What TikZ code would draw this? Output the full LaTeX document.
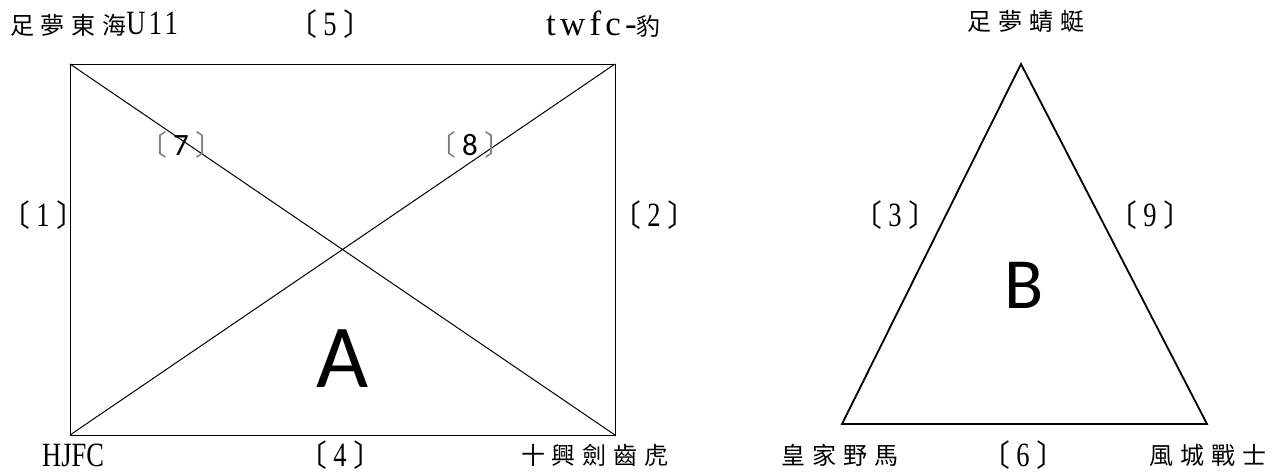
\documentclass[tikz,border=0pt]{standalone}
\usepackage{fontspec}
\setmainfont{Liberation Serif}
\newfontfamily\cjk[LetterSpace=28]{Noto Sans CJK TC}
\newfontfamily\cjkb{Noto Sans CJK TC}
\newfontfamily\latf[FakeStretch=0.78]{Liberation Serif}
\newfontfamily\latw[LetterSpace=12]{Liberation Serif}
\newfontfamily\carl{Carlito}
\newcommand{\mylt}[2][0]{{\latf\fontsize{34}{36}\selectfont\addfontfeature{LetterSpace=#1}#2}}
\newcommand{\mywide}[1]{{\latw\fontsize{35}{36}\selectfont #1}}
\newcommand{\mybrk}[1]{\makebox[18pt]{\cjkb\fontsize{30}{32}\selectfont 〔}\kern8pt\makebox[22pt]{\mylt{#1}}\kern8pt\makebox[18pt]{\cjkb\fontsize{30}{32}\selectfont 〕}}
\newcommand{\mygbrk}[1]{\makebox[18pt]{\textcolor{gray}{\cjkb\fontsize{28}{30}\selectfont 〔}}\kern8pt\makebox[22pt]{\carl\fontsize{31}{34}\selectfont #1}\kern8pt\makebox[18pt]{\textcolor{gray}{\cjkb\fontsize{28}{30}\selectfont 〕}}}
\begin{document}
\begin{tikzpicture}[x=1pt,y=-1pt,
  lbl/.style={inner sep=0pt,font=\cjk\fontsize{24}{28}\selectfont},
  num/.style={inner sep=0pt,font=\cjkb\fontsize{24}{28}\selectfont},
  big/.style={inner sep=0pt,font=\carl\fontsize{90}{94}\selectfont},
  edge/.style={line width=1pt},
  tri/.style={line width=1.8pt,line join=miter}]
\useasboundingbox[fill=white] (0,0) rectangle (1282,475);
% rectangle A
\coordinate (tl) at (70,64);
\coordinate (tr) at (615,64);
\coordinate (br) at (615,435);
\coordinate (bl) at (70,435);
\draw[edge] (tl) -- (tr) -- (br) -- (bl) -- cycle;
\draw[edge] (tl) -- (br);
\draw[edge] (bl) -- (tr);
% triangle B
\coordinate (ta) at (1021,64);
\coordinate (tbl) at (842,424);
\coordinate (tbr) at (1207,424);
\draw[tri] (ta) -- (tbr) -- (tbl) -- cycle;
% labels A
\node[lbl,anchor=west] (n1) at (10,24) {足夢東海\mylt[10]{U11}};
\node[num] (n5) at (330,24) {\mybrk{5}};
\node[lbl,anchor=west] (n2) at (546,24) {\mywide{twfc-}豹};
\node[num] (n7) at (181,145) {\mygbrk{7}};
\node[num] (n8) at (470,145) {\mygbrk{8}};
\node[num] (e1) at (43,215) {\mybrk{1}};
\node[num] (e2) at (654,215) {\mybrk{2}};
\node[big] (A) at (343,359) {A};
\node[lbl,anchor=west] (n3) at (42,455) {\mylt{HJFC}};
\node[num] (e4) at (340,455) {\mybrk{4}};
\node[lbl,anchor=west] (n4) at (521,455) {十興劍齒虎};
% labels B
\node[lbl] (m1) at (1026,22) {足夢蜻蜓};
\node[num] (e3) at (895,215) {\mybrk{3}};
\node[num] (e9) at (1150,215) {\mybrk{9}};
\node[big,font=\carl\fontsize{72}{76}\selectfont] (B) at (1024,285) {B};
\node[lbl] (m2) at (840,455) {皇家野馬};
\node[num] (e6) at (1023,455) {\mybrk{6}};
\node[lbl] (m3) at (1208,455) {風城戰士};
\end{tikzpicture}
\end{document}
